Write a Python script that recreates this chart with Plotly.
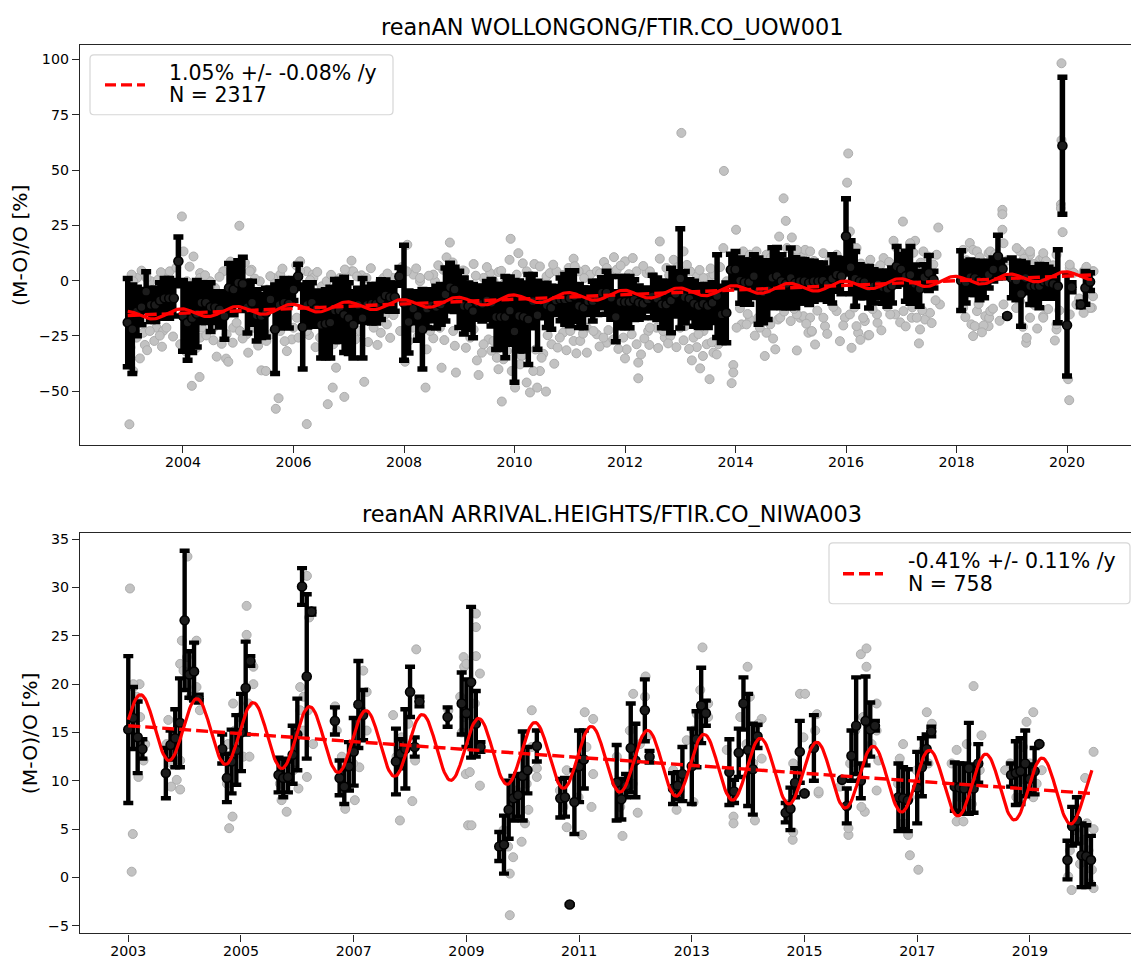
import numpy as np
import plotly.graph_objects as go

FONT = "DejaVu Sans"
W, H = 1131, 961
ML = 80  # left margin in px; plot area runs to the right edge

# ---------------------------------------------------------------- top panel
TOP_TITLE = "reanAN WOLLONGONG/FTIR.CO_UOW001"
TOP_SLOPE, TOP_SLOPE_ERR, TOP_N = 1.05, -0.08, 2317
TOP_FIT_INTERCEPT = -15.8      # trend value at 2003.0
TOP_FIT_AMP, TOP_FIT_PEAK = 2.0, 0.96   # seasonal amplitude, phase of maximum (fraction of year)
TOP_FIT_SPAN = (2003.0, 2020.45)
TOP_XTICKS = [2004, 2006, 2008, 2010, 2012, 2014, 2016, 2018, 2020]
TOP_YTICKS = [-50, -25, 0, 25, 50, 75, 100]

# monthly means and standard deviations, Jan 2003 .. Jun 2020 (None = no data)
TOP_FIRST_YEAR = 2003
TOP_MEAN = [
    -19, -22, -14, -12, -5, -11, -11, -9, -8, -8, -8, 8.7,                     # 2003
    -16, -19, -17, -15, -10, -10, -12, -12, -13, -16, -3.3, -4,                # 2004
    -1, -1.5, -12, -10, -15.7, -16, -14.5, -8.5, -22, -11, -10, -10.5,         # 2005
    -4, 1.9, -21, -11, -10, -12.7, -20, -19.5, -19, -13.5, -13.5, -15.5,       # 2006
    -17, -20, -11, -17, -11, -10.5, -10.5, -8.6, -6.7, -7.5, -7.5, 1.9,        # 2007
    -10, -18.7, -12.7, -16, -22, -12.7, -11.2, -12, -10.8, -6.3, -3, -4,       # 2008
    -8.5, -11.5, -11.6, -13.8, -10, -10.5, -9, -10, -16.5, -16.5, -16.5, -13.6,  # 2009
    -23, -16, -16.5, -17.6, -9.3, -15.7, -9.3, -11.2, -12.3, -9, -8.5, -8.5,   # 2010
    -8, -7, -11.5, -12.3, -9.3, -9.3, -7.8, -5.5, -5.5, -7.8, -16.4, -9.7,     # 2011
    -9.7, -9.7, -8.6, -10, -10.5, -8.5, -7.2, -8.2, -10.8, -10.8, -9, -6,      # 2012
    1, -7.5, -8.2, -10.5, -11.5, -10.5, -11.5, -10, -7, -15.3, -14.6, 4.9,     # 2013
    5, 0, -0.7, -0.7, 2, -4.8, -5.2, -4.3, 1.3, 2.1, -0.3, -1.5,               # 2014
    1.2, -1, -0.3, -0.3, -1, -0.3, -0.3, 0, -1.8, 0.8, 2.7, 2,                 # 2015
    20, 6, 0.8, -0.3, -0.7, -3, -2.6, -1.8, -3, -3.7, -2.2, 6.4,               # 2016
    5, 2, 2.6, -1.5, -3.7, 1.5, 3.4, 0.4, None, None, None, None,              # 2017
    None, 0, -0.7, 1.5, 1.2, 0, -0.3, 2.7, 5, 10.9, 5.3, -16,                  # 2018
    1.2, 0, -6, 1.2, -2.5, -2.5, -2.5, -0.4, -1, -1.5, -2.6, 61,               # 2019
    -20.2, -3, None, -10.8, -3.3, -0.5,                                        # 2020
]
TOP_STD = [
    20, 20, 11, 8, 9, 7.5, 7.5, 8, 9, 9, 8, 11,
    16, 17, 15.5, 15, 9, 9, 11, 7, 8, 10.5, 11, 11.5,
    10, 12, 11.7, 9.7, 11.6, 9.7, 11, 5, 20, 10.5, 11, 11,
    5, 5.5, 19, 10, 9, 8, 15, 15.4, 16, 14, 14, 17,
    16, 15, 7.5, 18, 8, 8.7, 8.7, 9, 7, 6.4, 6.4, 4,
    26, 14, 6.4, 11, 18, 8.6, 7, 9.4, 9, 12, 10.8, 10,
    12.7, 12.7, 10.5, 12, 7.5, 7.8, 8.6, 10.5, 14.7, 14.7, 18.4, 15.2,
    23, 15.8, 15.4, 20.3, 12, 15.4, 7.5, 10, 9.7, 6.3, 9.7, 11.2,
    12.4, 11.4, 9.7, 9, 6, 9, 7.5, 6.8, 9.7, 9.7, 11.3, 11.6,
    11.6, 11.6, 9, 7.5, 6.3, 5.2, 9.6, 9.4, 10.5, 10.5, 14.6, 10,
    22.5, 11.6, 8.6, 10.2, 9.7, 8.6, 9.7, 9, 18.7, 12.7, 13.5, 7,
    8.2, 10.2, 10, 10, 9.7, 15, 13.9, 13.3, 13.6, 12.9, 12, 10.8,
    13.5, 11.3, 9.8, 9.8, 9.8, 9, 8.3, 7.9, 7.5, 10.9, 7.5, 8,
    17, 12, 12.4, 7.5, 7.1, 9.4, 7.5, 6, 7.2, 7.9, 7.9, 9,
    6.8, 11.3, 12.8, 8.6, 7.9, 5.7, 7.9, 3.8, None, None, None, None,
    None, 13.5, 9.4, 7.8, 7.5, 8.7, 7.5, 6, 5.2, 9.6, 4, 0,
    9, 8.7, 14.6, 6.7, 8.3, 8.3, 9.8, 7.6, 7, 6.5, 16.5, 31,
    23, 2, None, 1, 7.4, 4,
]

# individual observations (decimal year, relative difference in %)
TOP_OBS_2003_2008 = [
    (2003.98, 29.0), (2005.02, 24.8), (2003.03, -65.0), (2004.16, -47.6), (2004.30, -43.6),
    (2005.73, -53.2), (2005.68, -58.0), (2006.24, -64.9), (2006.62, -55.9), (2006.71, -48.4),
    (2006.92, -52.6), (2007.28, -45.8), (2008.39, -48.4), (2006.77, -39.4), (2005.42, -40.6),
    (2005.50, -40.9), (2008.68, -39.4), (2008.94, -41.6), (2008.02, -36.7), (2004.61, -34.4),
    (2004.78, -35.3), (2004.82, -36.7), (2005.18, -32.6), (2003.22, -35.2), (2003.31, -29.1),
    (2003.48, -27.3), (2003.62, -29.9), (2004.55, -27.0), (2005.97, -26.6), (2005.88, -31.9),
    (2006.28, -24.6), (2006.54, -19.8), (2006.33, -16.8), (2005.15, -24.3), (2004.91, -21.3),
    (2004.97, -19.1), (2007.58, -23.6), (2007.66, -15.3), (2007.81, -15.6), (2008.53, -26.1),
    (2008.41, -31.1), (2008.83, 17.2), (2008.77, 10.5), (2008.06, 16.2), (2007.05, 9.0),
    (2007.05, 4.2), (2006.12, 8.7), (2005.76, 2.7), (2006.24, 4.2), (2006.35, 2.7),
    (2005.24, 4.9), (2005.03, 7.2), (2004.19, 10.9), (2004.01, 13.2), (2003.68, 2.7),
    (2003.17, 1.2), (2003.07, 2.7), (2003.74, 1.2), (2004.31, 3.4), (2003.42, -0.3),
    (2007.63, 1.2), (2008.17, 2.7), (2007.23, 2.4), (2008.71, 4.9), (2006.60, -3.3),
    (2006.51, -2.6), (2005.76, -18.3), (2006.06, -16.8), (2007.45, -15.3), (2007.84, -1.8),
    (2008.29, -0.3), (2008.56, -0.3), (2004.58, -3.3), (2004.49, -2.6), (2005.52, -4.1),
    (2005.64, -4.8), (2003.10, -40.9), (2003.28, -23.6), (2003.52, -21.3), (2003.64, -22.8),
    (2004.34, -21.3), (2005.33, -15.3), (2004.91, -10.8), (2006.87, -22.1), (2007.02, -22.8),
    (2003.10, -0.3), (2003.34, 1.2), (2003.55, 0.4), (2003.76, 4.2), (2004.07, -0.3),
    (2004.31, 1.2), (2004.49, -0.3), (2004.73, 4.2), (2004.97, 5.7), (2005.21, 4.2),
    (2005.39, -0.3), (2005.63, 1.2), (2005.88, -0.3), (2006.12, 4.2), (2006.36, 1.2),
    (2006.60, -0.3), (2006.84, 1.2), (2007.08, 4.2), (2007.32, 1.2), (2007.57, -0.3),
    (2007.81, 1.2), (2008.05, 4.2), (2008.29, 1.2), (2008.53, 2.7), (2008.77, 4.2),
    (2008.95, 4.2), (2003.16, -25.8), (2003.40, -22.8), (2003.70, -21.3), (2003.95, -28.8),
    (2004.31, -25.8), (2004.55, -21.3), (2004.79, -24.3), (2005.03, -22.8), (2005.27, -21.3),
    (2005.51, -27.3), (2005.76, -22.8), (2006.00, -21.3), (2006.24, -22.8), (2006.48, -25.8),
    (2006.72, -28.8), (2006.96, -25.8), (2007.20, -22.8), (2007.45, -21.3), (2007.69, -19.8),
    (2007.93, -22.8), (2008.17, -21.3), (2008.41, -19.8), (2008.65, -21.3), (2008.89, -22.8),
    (2003.25, 4.5), (2003.60, 3.8), (2003.88, 5.9), (2004.12, 6.3), (2004.40, 2.4),
    (2004.66, 1.7), (2004.86, 8.6), (2005.12, 8.1), (2005.30, 0.9), (2005.58, 2.0),
    (2005.80, 5.4), (2006.05, 6.9), (2006.30, 0.2), (2006.43, 3.9), (2006.68, 2.6),
    (2006.93, 5.0), (2007.15, 1.9), (2007.40, 5.6), (2007.70, 3.2), (2007.96, 6.1),
    (2008.22, 5.5), (2008.45, 2.2), (2008.62, 6.9), (2008.88, 8.2), (2003.05, -30.2),
    (2003.35, -31.5), (2003.58, -24.9), (2003.82, -25.3), (2004.05, -32.0), (2004.24, -30.5),
    (2004.42, -24.8), (2004.70, -28.6), (2004.90, -28.1), (2005.08, -26.2), (2005.36, -29.4),
    (2005.60, -24.2), (2005.84, -27.4), (2006.09, -25.8), (2006.40, -30.1), (2006.58, -31.8),
    (2006.80, -25.4), (2007.00, -30.5), (2007.12, -26.6), (2007.35, -27.8), (2007.52, -29.1),
    (2007.75, -25.9), (2008.08, -27.4), (2008.25, -25.2), (2008.47, -22.8), (2008.73, -26.9),
    (2008.92, -29.5),
]
TOP_OBS_2009_2014 = [
    (2013.79, 49.6), (2013.02, 66.8), (2014.87, 37.2), (2014.91, 27.0), (2014.79, 19.9),
    (2014.01, 23.0), (2013.78, 14.7), (2012.63, 17.7), (2009.93, 18.9), (2010.07, 12.4),
    (2009.91, 9.4), (2010.36, 7.5), (2011.07, 9.9), (2011.62, 8.4), (2011.80, 10.6),
    (2012.00, 8.7), (2012.14, 10.2), (2012.63, 9.9), (2009.26, 7.5), (2009.07, 4.6),
    (2009.56, 3.4), (2009.71, 3.9), (2010.58, 1.9), (2011.28, 4.9), (2012.39, 3.4),
    (2013.06, 13.2), (2013.30, 1.9), (2013.51, 1.2), (2014.08, 10.9), (2009.35, -42.7),
    (2009.77, -54.7), (2009.71, -40.1), (2009.80, -35.6), (2010.01, -48.4), (2010.28, -50.6),
    (2010.41, -48.4), (2010.57, -50.2), (2010.22, -46.1), (2010.46, -40.9), (2010.72, -37.6),
    (2010.67, -28.8), (2010.52, -33.1), (2010.94, -31.5), (2011.31, -32.6), (2011.67, -28.1),
    (2012.00, -35.2), (2012.03, -31.1), (2012.24, -37.1), (2012.24, -44.2), (2012.29, -33.4),
    (2012.44, -29.1), (2012.72, -25.8), (2012.93, -30.1), (2013.21, -36.1), (2013.30, -30.1),
    (2013.41, -34.1), (2013.36, -39.7), (2013.53, -44.6), (2013.60, -32.6), (2013.66, -33.4),
    (2013.96, -38.2), (2013.96, -41.6), (2013.93, -46.4), (2014.53, -34.1), (2014.72, -31.1),
    (2014.56, -23.6), (2014.41, -16.8), (2014.26, -17.6), (2014.11, -19.8), (2014.77, -17.6),
    (2009.53, -26.6), (2009.62, -27.3), (2009.41, -32.6), (2009.32, -36.1), (2010.13, -34.1),
    (2009.95, -40.9), (2011.07, -27.3), (2011.31, -21.3), (2011.49, -24.3), (2012.42, -22.8),
    (2012.57, -21.3), (2013.09, -20.6), (2013.42, -22.8), (2013.69, -28.8), (2010.94, -20.6),
    (2010.88, -23.6), (2009.10, 4.2), (2009.44, 1.2), (2009.62, -0.3), (2009.83, -1.1),
    (2010.04, 2.7), (2010.22, 4.2), (2010.46, 6.4), (2010.64, 3.4), (2010.76, 4.2),
    (2010.98, 5.7), (2011.16, 4.2), (2011.37, 2.7), (2011.49, 4.2), (2011.67, 5.7),
    (2011.85, 4.9), (2012.21, 4.2), (2012.45, 4.2), (2012.75, 5.7), (2012.88, 9.4),
    (2013.18, 4.2), (2013.42, 1.2), (2013.60, 2.7), (2013.84, -0.3), (2014.14, 13.2),
    (2014.26, 11.7), (2014.38, 13.2), (2014.56, 11.7), (2014.72, 12.4), (2014.93, 14.7),
    (2009.20, -25.8), (2009.44, -28.8), (2009.68, -34.9), (2009.86, -31.9), (2010.10, -37.9),
    (2010.34, -40.9), (2010.49, -34.9), (2010.82, -25.8), (2011.01, -22.8), (2011.19, -27.3),
    (2011.43, -22.8), (2011.61, -25.8), (2011.79, -26.6), (2011.97, -25.8), (2012.21, -28.8),
    (2012.45, -21.3), (2012.69, -22.8), (2012.82, -25.1), (2013.00, -21.3), (2013.24, -25.8),
    (2013.48, -28.8), (2013.78, -21.3), (2014.02, -21.3), (2014.20, -19.8), (2014.44, -21.3),
    (2014.63, -19.8), (2014.81, -16.8),
    (2009.30, 2.2), (2009.50, 6.1), (2009.76, 4.4), (2010.15, 7.8), (2010.30, 1.9),
    (2010.70, 7.2), (2010.88, 2.6), (2011.09, 6.5), (2011.26, 1.1), (2011.55, 3.3),
    (2011.74, 2.0), (2011.92, 6.8), (2012.07, 2.9), (2012.33, 6.6), (2012.52, 1.8),
    (2012.80, 2.4), (2012.95, 6.0), (2013.12, 7.1), (2013.35, 4.8), (2013.55, 5.5),
    (2013.72, 6.1), (2009.12, -30.4), (2009.26, -22.1), (2009.58, -31.7), (2009.92, -27.9),
    (2010.18, -29.6), (2010.38, -31.2), (2010.60, -24.7), (2010.78, -30.3), (2011.12, -32.9),
    (2011.24, -24.0), (2011.54, -29.8), (2011.70, -22.4), (2011.88, -30.9), (2012.12, -24.3),
    (2012.35, -26.2), (2012.60, -30.5), (2012.78, -28.4), (2013.06, -27.0), (2013.16, -30.9),
    (2013.33, -24.2), (2013.57, -27.9), (2013.75, -25.4), (2014.05, 8.5), (2014.18, 6.2),
    (2014.30, 9.8), (2014.47, 7.1), (2014.64, 10.4), (2014.85, 8.0), (2014.08, -12.5),
    (2014.22, -15.1), (2014.35, -24.9), (2014.50, -18.4), (2014.68, -26.2), (2014.88, -14.0),
]
TOP_OBS_2015_2020 = [
    (2015.02, 19.5), (2015.23, 12.4), (2015.11, 13.2), (2015.26, 13.9), (2015.00, -18.3),
    (2015.17, -16.8), (2015.11, -31.6), (2015.23, -16.4), (2015.32, -23.6), (2016.04, 57.5),
    (2016.02, 44.3), (2017.03, 26.7), (2017.67, 24.0), (2019.90, 98.3), (2019.90, 63.5),
    (2019.89, 34.5), (2019.89, 32.7), (2019.92, 21.9), (2018.83, 32.0), (2018.83, 30.0),
    (2018.83, 23.0), (2020.02, -44.6), (2020.04, -54.1), (2016.86, 18.0), (2017.25, 18.0),
    (2018.24, 17.0), (2015.44, -28.9), (2015.38, -23.1), (2015.89, -27.4), (2016.10, -30.4),
    (2016.22, -23.6), (2016.40, -24.8), (2017.32, -28.4), (2017.34, -22.1), (2018.30, -25.1),
    (2018.27, -19.8), (2018.52, -16.1), (2018.58, -20.6), (2019.26, -28.1), (2019.27, -25.9),
    (2019.81, -22.1), (2019.78, -27.1), (2020.47, 4.2), (2020.47, -7.1), (2020.45, -12.3),
    (2019.15, 13.2), (2019.30, 10.9), (2019.51, 9.4), (2020.05, 5.7), (2018.30, 13.9),
    (2018.58, 12.4), (2015.23, -16.1), (2015.38, -22.8), (2015.62, -20.6), (2015.98, -16.8),
    (2016.19, -20.6), (2016.34, -18.3), (2016.42, -24.6), (2016.57, -19.1), (2018.33, -20.6),
    (2018.49, -20.3), (2018.59, -16.8), (2017.43, -17.6), (2017.19, -16.8), (2016.89, -15.3),
    (2019.33, 11.7), (2019.57, 10.2), (2019.57, -16.1), (2020.05, -15.3), (2020.39, -12.3),
    (2019.15, -6.3), (2015.11, 13.9), (2015.35, 13.2), (2015.59, 12.4), (2015.83, 11.7),
    (2016.07, 22.2), (2016.19, 14.7), (2016.44, 9.4), (2016.68, 10.2), (2016.92, 14.7),
    (2017.16, 16.9), (2017.40, 13.2), (2017.64, 11.7), (2018.12, 13.9), (2018.37, 13.2),
    (2018.61, 13.2), (2018.85, 16.9), (2019.09, 14.7), (2019.33, 13.2), (2019.57, 12.4),
    (2019.81, 11.7), (2020.05, 7.2), (2020.30, 4.2), (2020.48, 4.2), (2015.11, -15.3),
    (2015.35, -16.8), (2015.59, -16.8), (2015.83, -13.8), (2016.07, -15.3), (2016.31, -16.8),
    (2016.56, -15.3), (2016.80, -15.3), (2017.04, -13.8), (2017.28, -16.8), (2017.52, -14.6),
    (2017.70, -10.8), (2018.12, -12.3), (2018.37, -13.8), (2018.61, -13.8), (2018.85, -10.8),
    (2019.15, -9.3), (2019.33, -16.8), (2019.57, -16.8), (2019.81, -19.8), (2020.17, -10.8),
    (2020.42, -12.3),
    (2015.05, 9.6), (2015.20, 6.8), (2015.42, 8.9), (2015.55, 5.9), (2015.70, 9.1),
    (2015.92, 7.4), (2016.12, 10.8), (2016.27, 7.7), (2016.50, 5.2), (2016.62, 6.9),
    (2016.78, 8.4), (2016.96, 11.5), (2017.10, 9.8), (2017.22, 12.6), (2017.35, 8.1),
    (2017.48, 10.9), (2017.58, 7.3), (2018.18, 9.2), (2018.42, 10.5), (2018.55, 7.9),
    (2018.70, 11.8), (2018.92, 9.1), (2019.04, 8.4), (2019.22, 9.9), (2019.40, 7.5),
    (2019.62, 8.8), (2019.75, 6.9), (2020.12, 3.5), (2020.35, 6.2), (2015.06, -12.8),
    (2015.28, -19.5), (2015.48, -13.6), (2015.66, -24.1), (2015.77, -11.9), (2015.95, -20.3),
    (2016.15, -12.2), (2016.26, -26.8), (2016.48, -12.9), (2016.64, -22.5), (2016.74, -11.8),
    (2016.98, -18.9), (2017.08, -20.7), (2017.20, -12.1), (2017.38, -13.4), (2017.55, -19.2),
    (2017.62, -8.9), (2018.16, -16.5), (2018.40, -10.6), (2018.46, -23.4), (2018.66, -12.7),
    (2018.78, -18.2), (2019.08, -12.4), (2019.20, -20.9), (2019.42, -11.2), (2019.46, -21.7),
    (2019.66, -12.9), (2019.86, -13.5), (2020.22, -8.1), (2020.30, -14.6),
]

# ------------------------------------------------------------- bottom panel
BOT_TITLE = "reanAN ARRIVAL.HEIGHTS/FTIR.CO_NIWA003"
BOT_SLOPE, BOT_SLOPE_ERR, BOT_N = -0.41, 0.11, 758
BOT_FIT_INTERCEPT = 15.7
BOT_FIT_AMP, BOT_FIT_PEAK = 3.3, 0.22
BOT_FIT_SPAN = (2003.0, 2020.1)
BOT_XTICKS = [2003, 2005, 2007, 2009, 2011, 2013, 2015, 2017, 2019]
BOT_YTICKS = [-5, 0, 5, 10, 15, 20, 25, 30, 35]

BOT_MONTHS = [
    "2003-01", "2003-02", "2003-03", "2003-04", "2003-09", "2003-10", "2003-11", "2003-12",
    "2004-01", "2004-02", "2004-03", "2004-04", "2004-09", "2004-10", "2004-11", "2004-12",
    "2005-01", "2005-02", "2005-03", "2005-09", "2005-10", "2005-11", "2005-12",
    "2006-01", "2006-02", "2006-03", "2006-04", "2006-09", "2006-10", "2006-11", "2006-12",
    "2007-01", "2007-02", "2007-03", "2007-10", "2007-11", "2007-12",
    "2008-01", "2008-02", "2008-03", "2008-09", "2008-12",
    "2009-01", "2009-02", "2009-03", "2009-04", "2009-08", "2009-09", "2009-10", "2009-11", "2009-12",
    "2010-01", "2010-02", "2010-04", "2010-09", "2010-10", "2010-11", "2010-12",
    "2011-01", "2011-02", "2011-09", "2011-10", "2011-11", "2011-12",
    "2012-01", "2012-03", "2012-04", "2012-09", "2012-10", "2012-11",
    "2013-01", "2013-02", "2013-03", "2013-04", "2013-09", "2013-10", "2013-11", "2013-12",
    "2014-01", "2014-02", "2014-03", "2014-09", "2014-10", "2014-11", "2014-12",
    "2015-01", "2015-03", "2015-09", "2015-10", "2015-11", "2015-12",
    "2016-01", "2016-02", "2016-03", "2016-04", "2016-09", "2016-10", "2016-11",
    "2017-01", "2017-02", "2017-03", "2017-04", "2017-09", "2017-10", "2017-11", "2017-12",
    "2018-01", "2018-02", "2018-09", "2018-10", "2018-11", "2018-12",
    "2019-01", "2019-02", "2019-03", "2019-09", "2019-10", "2019-11", "2019-12",
    "2020-01", "2020-02",
]
BOT_MEAN = [
    15.3, 16.5, 14.5, 13.3, 10.8, 13.7, 14.4, 16.0,
    26.6, 21.0, 21.3, 18.5, 13.3, 10.3, 12.0, 13.2,
    15.0, 19.6, 22.4, 10.6, 10.3, 10.4, 12.7,
    14.8, 30.1, 20.8, 27.5, 16.2, 10.3, 9.4, 11.5,
    13.0, 17.9, 16.8, 12.0, 12.8, 13.3,
    19.2, 13.5, 18.2, 16.6, 18.0,
    17.0, 20.2, 15.9, 13.5, 3.2, 3.4, 7.0, 8.2, 8.5,
    10.5, 11.1, 13.6, 8.2, 8.3, -2.8, 7.8,
    11.5, 12.2, 9.8, 8.1, 9.5, 13.4,
    12.1, 17.3, 12.5, 9.2, 9.5, 10.7,
    11.5, 14.3, 17.8, 17.0, 10.9, 8.9, 12.9, 18.0,
    13.2, 11.2, 14.6, 6.7, 7.1, 9.8, 13.0,
    8.7, 13.4, 10.1, 7.4, 12.6, 15.7,
    10.0, 16.2, 15.3, 15.7, 8.3, 8.2, 8.0,
    9.3, 11.4, 13.3, 15.1, 9.4, 9.3, 9.2, 11.3,
    9.2, 11.8, 10.6, 10.8, 11.0, 11.8,
    10.2, 11.0, 13.8, 1.8, 5.3, 5.9, 2.3,
    2.2, 1.8,
]
BOT_STD = [
    7.6, 3.2, 3.7, 1.0, 2.6, 1.5, 3.0, 4.6,
    7.2, 2.4, 3.0, 0.4, 1.5, 2.5, 3.3, 3.6,
    4.0, 4.8, 0.5, 1.8, 2.0, 1.6, 3.0,
    3.7, 1.9, 8.5, 0.3, 1.4, 1.8, 1.8, 2.5,
    3.5, 4.5, 2.6, 3.4, 1.5, 4.1,
    2.6, 1.0, 0.5, 1.0, 3.2,
    3.5, 7.8, 3.4, 0.5, 1.5, 3.0, 3.0, 2.3, 2.2,
    4.6, 2.4, 1.6, 2.0, 2.0, 0.0, 3.3,
    3.7, 3.0, 3.9, 2.1, 1.2, 4.6,
    3.8, 3.2, 0.6, 1.6, 1.4, 2.8,
    3.9, 2.9, 3.9, 1.3, 3.4, 1.2, 2.5, 2.7,
    5.8, 4.7, 1.2, 1.0, 2.2, 1.5, 3.2,
    0.0, 3.4, 0.0, 1.8, 2.6, 5.0,
    1.8, 4.6, 2.8, 0.5, 3.5, 3.2, 3.2,
    3.7, 3.0, 1.5, 0.5, 2.5, 2.5, 2.6, 4.7,
    2.5, 2.0, 1.2, 3.3, 3.4, 3.4,
    1.5, 2.4, 0.0, 2.0, 2.0, 2.4, 3.3,
    3.2, 2.5,
]

BOT_OBS_2003_2008 = [
    (2003.03, 29.9), (2003.08, 4.5), (2003.06, 0.6), (2003.20, 20.0), (2003.09, 19.7),
    (2003.18, 10.4), (2003.27, 12.1), (2004.05, 33.2), (2003.95, 24.5), (2004.21, 24.5),
    (2003.92, 22.1), (2004.10, 18.7), (2004.21, 19.7), (2003.71, 16.3), (2003.92, 12.1),
    (2003.86, 10.1), (2003.92, 9.1), (2003.76, 9.4), (2005.10, 28.1), (2005.10, 25.1),
    (2005.19, 22.1), (2005.22, 21.8), (2004.86, 18.0), (2005.04, 12.5), (2005.15, 12.5),
    (2004.85, 6.3), (2004.79, 5.1), (2004.75, 9.7), (2006.17, 31.2), (2006.21, 26.9),
    (2006.05, 19.7), (2006.19, 17.3), (2006.11, 15.2), (2006.17, 10.4), (2005.81, 6.8),
    (2005.72, 8.0), (2006.02, 9.2), (2006.67, 17.7), (2006.79, 12.5), (2006.85, 7.1),
    (2007.02, 8.0), (2007.17, 21.4), (2007.23, 19.2), (2007.10, 11.4), (2007.70, 16.8),
    (2007.82, 5.9), (2008.04, 7.9), (2008.11, 23.6), (2008.95, 22.8), (2008.96, 21.8),
    (2009.03, 5.4), (2008.99, 10.7), (2008.92, 15.0), (2003.09, 20.0), (2003.15, 18.7),
    (2003.21, 16.6), (2003.30, 13.8), (2003.68, 13.8), (2003.77, 11.8), (2003.83, 13.2),
    (2003.98, 21.4), (2004.04, 22.8), (2004.15, 21.4), (2004.27, 17.3), (2004.77, 13.8),
    (2004.89, 15.2), (2004.98, 16.6), (2005.13, 18.0), (2005.22, 20.0), (2005.69, 9.7),
    (2005.81, 11.8), (2005.93, 11.1), (2006.05, 17.3), (2006.11, 18.7), (2006.28, 13.8),
    (2006.70, 15.2), (2006.82, 11.8), (2006.99, 11.8), (2007.14, 17.3), (2007.23, 15.2),
    (2007.76, 12.5), (2007.85, 14.5), (2007.97, 15.9), (2008.09, 12.1), (2008.68, 17.3),
    (2008.89, 18.7), (2008.97, 16.6),
]
BOT_OBS_2009_2014 = [
    (2009.17, 27.3), (2009.17, 25.9), (2009.17, 22.9), (2009.24, 21.1), (2009.06, 10.9),
    (2009.24, 9.5), (2009.09, 5.4), (2009.77, -3.9), (2009.77, 0.4), (2009.98, 3.7),
    (2009.83, 2.1), (2010.16, 17.3), (2010.25, 11.3), (2010.25, 10.4), (2010.10, 7.0),
    (2010.04, 5.6), (2010.78, 5.2), (2010.78, 11.1), (2011.05, 4.4), (2011.10, 17.1),
    (2011.25, 16.4), (2011.25, 10.7), (2011.22, 7.3), (2011.77, 4.3), (2011.96, 19.0),
    (2012.18, 20.8), (2012.17, 18.7), (2012.04, 6.7), (2011.73, 7.3), (2011.95, 9.7),
    (2012.73, 7.0), (2012.91, 14.2), (2013.19, 23.8), (2013.29, 18.0), (2013.09, 16.9),
    (2013.03, 7.8), (2013.74, 6.3), (2013.74, 5.6), (2013.99, 21.8), (2014.03, 18.7),
    (2014.24, 16.4), (2014.24, 12.3), (2014.12, 5.9), (2014.79, 3.9), (2014.80, 4.7),
    (2014.92, 19.0), (2014.80, 11.8), (2009.00, 22.1), (2009.15, 18.0), (2009.66, 4.9),
    (2009.74, 3.2), (2009.89, 9.0), (2010.07, 9.7), (2010.16, 13.5), (2010.66, 9.0),
    (2010.72, 7.3), (2010.99, 8.3), (2011.13, 13.5), (2011.67, 12.5), (2011.79, 9.7),
    (2011.90, 15.2), (2012.08, 13.8), (2012.20, 14.5), (2012.67, 11.1), (2012.79, 9.0),
    (2013.03, 15.2), (2013.15, 19.4), (2013.29, 16.6), (2013.62, 13.2), (2013.86, 16.6),
    (2013.97, 13.8), (2014.09, 11.8), (2014.18, 15.9), (2014.71, 7.6), (2014.86, 9.0),
    (2014.98, 14.5),
]
BOT_OBS_2015_2020 = [
    (2015.22, 16.9), (2015.25, 8.7), (2015.19, 15.2), (2016.00, 23.1), (2016.10, 23.7),
    (2016.10, 21.8), (2016.28, 18.0), (2016.28, 15.2), (2016.28, 9.0), (2016.07, 6.8),
    (2016.01, 7.3), (2015.78, 4.4), (2015.78, 5.1), (2015.63, 9.4), (2015.01, 19.0),
    (2015.25, 8.9), (2016.75, 13.8), (2016.69, 12.3), (2016.84, 4.4), (2016.87, 2.3),
    (2017.02, 0.8), (2017.17, 17.1), (2017.26, 15.9), (2017.70, 13.2), (2017.70, 5.8),
    (2017.82, 5.8), (2018.00, 19.8), (2018.14, 14.7), (2018.00, 9.7), (2019.06, 17.1),
    (2018.94, 16.1), (2018.82, 10.1), (2018.56, 11.1), (2019.06, 8.3), (2020.13, 13.0),
    (2019.98, 10.3), (2020.01, 5.6), (2020.13, 5.0), (2019.74, -1.3), (2020.13, -1.1),
    (2020.07, -0.6), (2019.68, 0.1), (2015.81, 11.8), (2015.90, 15.2), (2016.04, 16.6),
    (2016.19, 13.8), (2016.31, 12.1), (2016.66, 9.7), (2016.75, 5.6), (2016.87, 8.3),
    (2016.99, 11.1), (2017.11, 13.2), (2017.20, 11.8), (2017.61, 11.8), (2017.76, 8.3),
    (2017.88, 13.8), (2017.97, 7.6), (2018.11, 11.1), (2018.65, 11.8), (2018.76, 8.3),
    (2018.88, 13.5), (2019.00, 11.8), (2019.12, 9.7), (2019.21, 11.1), (2019.71, 2.8),
    (2019.80, 4.9), (2019.89, 1.4), (2019.95, 3.9), (2020.04, 2.8), (2020.10, 0.8),
]

# ------------------------------------------------------------------ layout geometry
TOP_PX = (43, 444)          # top/bottom edges of the upper axes, px
BOT_PX = (532, 933.3)
TOP_XRANGE = [2002.136, 2021.158]
BOT_XRANGE = [2002.143, 2020.794]
TOP_YRANGE = [-74.4, 106.6]
BOT_YRANGE = [-5.78, 35.65]

GREY = "#c2c2c2"
GREY_EDGE = "#adadad"
AXIS_COL = "#262626"


def px_x(px):
    return (px - ML) / (W - ML)


def px_y(py):
    return 1 - py / H


def month_decimal(label):
    y, m = label.split("-")
    return int(y) + (int(m) - 1) / 12.0


fig = go.Figure()


def add_panel(xa, ya, obs_lists, t_months, mean, std, intercept, slope, amp, peak, span,
              err_thick):
    obs = [p for lst in obs_lists for p in lst]
    fig.add_trace(go.Scatter(
        x=[p[0] for p in obs], y=[p[1] for p in obs], mode="markers",
        marker=dict(size=9, color=GREY, line=dict(color=GREY_EDGE, width=1)),
        xaxis=xa, yaxis=ya, hoverinfo="skip", cliponaxis=True))
    keep = [i for i, v in enumerate(mean) if v is not None]
    fig.add_trace(go.Scatter(
        x=[t_months[i] for i in keep], y=[mean[i] for i in keep], mode="markers",
        marker=dict(size=9, color="#1c1c1c", line=dict(color="black", width=1.6)),
        error_y=dict(type="data", array=[std[i] for i in keep], visible=True,
                     color="black", thickness=err_thick, width=5),
        xaxis=xa, yaxis=ya, hoverinfo="skip"))
    tt = np.linspace(span[0], span[1], 800)
    trend = intercept + slope * (tt - 2003.0)
    season = trend + amp * np.cos(2 * np.pi * (tt - np.floor(tt) - peak))
    fig.add_trace(go.Scatter(x=tt, y=season, mode="lines",
                             line=dict(color="red", width=3.2),
                             xaxis=xa, yaxis=ya, hoverinfo="skip"))
    fig.add_trace(go.Scatter(x=[tt[0], tt[-1]], y=[trend[0], trend[-1]], mode="lines",
                             line=dict(color="red", width=3.4, dash="12px,5px"),
                             xaxis=xa, yaxis=ya, hoverinfo="skip"))


top_t = [TOP_FIRST_YEAR + i / 12.0 for i in range(len(TOP_MEAN))]
bot_t = [month_decimal(m) for m in BOT_MONTHS]

add_panel("x", "y", [TOP_OBS_2003_2008, TOP_OBS_2009_2014, TOP_OBS_2015_2020],
          top_t, TOP_MEAN, TOP_STD, TOP_FIT_INTERCEPT, TOP_SLOPE, TOP_FIT_AMP,
          TOP_FIT_PEAK, TOP_FIT_SPAN, 5.5)
add_panel("x2", "y2", [BOT_OBS_2003_2008, BOT_OBS_2009_2014, BOT_OBS_2015_2020],
          bot_t, BOT_MEAN, BOT_STD, BOT_FIT_INTERCEPT, BOT_SLOPE, BOT_FIT_AMP,
          BOT_FIT_PEAK, BOT_FIT_SPAN, 4.4)

axis_common = dict(showgrid=False, zeroline=False, showline=True, linecolor=AXIS_COL,
                   linewidth=1.4, ticks="outside", ticklen=7, tickwidth=1.3,
                   tickcolor=AXIS_COL, tickfont=dict(family=FONT, size=14.2, color="black"))

fig.update_layout(
    width=W, height=H, margin=dict(l=ML, r=0, t=0, b=0),
    paper_bgcolor="white", plot_bgcolor="white", showlegend=False,
    font=dict(family=FONT, color="black"),
    xaxis=dict(domain=[0, 1], anchor="y", range=TOP_XRANGE, tickvals=TOP_XTICKS,
               ticktext=[str(v) for v in TOP_XTICKS], mirror=True, ticklabelstandoff=-3,
               **axis_common),
    yaxis=dict(domain=[px_y(TOP_PX[1]), px_y(TOP_PX[0])], anchor="x", range=TOP_YRANGE,
               tickvals=TOP_YTICKS, **axis_common),
    xaxis2=dict(domain=[0, 1], anchor="y2", range=BOT_XRANGE, tickvals=BOT_XTICKS,
                ticktext=[str(v) for v in BOT_XTICKS], mirror=True, ticklabelstandoff=-3,
                **axis_common),
    yaxis2=dict(domain=[px_y(BOT_PX[1]), px_y(BOT_PX[0])], anchor="x2", range=BOT_YRANGE,
                tickvals=BOT_YTICKS, **axis_common),
)


def rounded_box(x0, y0, x1, y1, r=4):
    rx, ry = r / (W - ML), r / H
    X0, X1, Y0, Y1 = px_x(x0), px_x(x1), px_y(y0), px_y(y1)
    return (f"M{X0 + rx},{Y0} L{X1 - rx},{Y0} Q{X1},{Y0} {X1},{Y0 - ry} "
            f"L{X1},{Y1 + ry} Q{X1},{Y1} {X1 - rx},{Y1} L{X0 + rx},{Y1} "
            f"Q{X0},{Y1} {X0},{Y1 + ry} L{X0},{Y0 - ry} Q{X0},{Y0} {X0 + rx},{Y0} Z")


shapes, annots = [], []


def add_legend(box, line_x, line_y, text_x, text_ys, lines):
    shapes.append(dict(type="path", path=rounded_box(*box), xref="paper", yref="paper",
                       line=dict(color="#d6d6d6", width=1.2),
                       fillcolor="rgba(255,255,255,0.85)", layer="above"))
    shapes.append(dict(type="line", xref="paper", yref="paper",
                       x0=px_x(line_x[0]), x1=px_x(line_x[1]), y0=px_y(line_y), y1=px_y(line_y),
                       line=dict(color="red", width=3.4, dash="11px,5px"), layer="above"))
    for ty, txt in zip(text_ys, lines):
        annots.append(dict(text=txt, xref="paper", yref="paper", x=px_x(text_x), y=px_y(ty),
                           xanchor="left", yanchor="middle", showarrow=False,
                           font=dict(family=FONT, size=20.5, color="black")))


add_legend((90, 53, 393, 113), (105, 145), 83, 167,
           (71.5, 93.5), [f"{TOP_SLOPE:.2f}% +/- {TOP_SLOPE_ERR:.2f}% /y", f"N = {TOP_N}"])
add_legend((829, 542, 1130, 603), (843, 883), 573, 906,
           (560.5, 583), [f"{BOT_SLOPE:.2f}% +/- {BOT_SLOPE_ERR:.2f}% /y", f"N = {BOT_N}"])

for txt, cy in ((TOP_TITLE, 25), (BOT_TITLE, 513.5)):
    annots.append(dict(text=txt, xref="paper", yref="paper", x=px_x(611.5), y=px_y(cy),
                       xanchor="center", yanchor="middle", showarrow=False,
                       font=dict(family=FONT, size=22.4, color="black")))

for cx, cy in ((20, (TOP_PX[0] + TOP_PX[1]) / 2), (30, (BOT_PX[0] + BOT_PX[1]) / 2)):
    annots.append(dict(text="(M-O)/O [%]", xref="paper", yref="paper", x=px_x(cx), y=px_y(cy),
                       xanchor="center", yanchor="middle", textangle=-90, showarrow=False,
                       font=dict(family=FONT, size=20.3, color="black")))

fig.update_layout(shapes=shapes, annotations=annots)
fig.write_html("out.html")
